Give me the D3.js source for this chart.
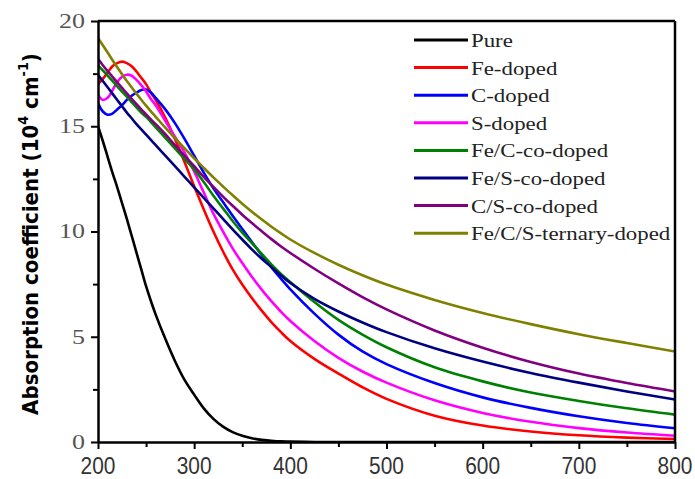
<!DOCTYPE html>
<html><head><meta charset="utf-8">
<script src="https://cdn.jsdelivr.net/npm/d3@7"></script>
<style>html,body{margin:0;padding:0;background:#fff;}svg{display:block;}</style>
</head><body><svg id="chart" width="695" height="479"></svg>
<script>
const wavelengths = [200,205,210,215,220,225,230,235,240,245,250,255,260,270,280,290,300,310,320,330,340,350,360,370,380,390,400,425,450,475,500,550,600,650,700,750,800];
const seriesNames = ["Pure","Fe-doped","C-doped","S-doped","Fe/C-co-doped","Fe/S-co-doped","C/S-co-doped","Fe/C/S-ternary-doped"];
const seriesColors = ["#000000","#ff0000","#0000ff","#ff00ff","#008000","#000080","#800080","#808000"];
const pure     = [15.0,14.3,13.55,12.8,12.1,11.35,10.6,9.8,9.0,8.2,7.4,6.7,6.05,4.9,3.85,2.95,2.25,1.6,1.1,0.73,0.47,0.3,0.18,0.1,0.06,0.03,0.02,0,0,0,0,0,0,0,0,0,0];
const feDoped  = [17.0,17.25,17.55,17.85,18.0,18.07,18.0,17.85,17.6,17.3,17.0,16.6,16.25,15.4,14.4,13.3,12.15,11.05,10.0,9.05,8.2,7.48,6.84,6.25,5.71,5.23,4.8,3.95,3.25,2.6,2.05,1.25,0.78,0.5,0.32,0.21,0.14];
const cDoped   = [16.1,15.7,15.55,15.6,15.8,16.0,16.25,16.45,16.6,16.72,16.75,16.6,16.35,15.8,15.15,14.4,13.6,12.8,12.05,11.4,10.75,10.12,9.5,8.9,8.32,7.77,7.25,6.1,5.1,4.3,3.7,2.8,2.12,1.62,1.22,0.9,0.65];
const sDoped   = [16.5,16.25,16.35,16.7,17.1,17.35,17.45,17.4,17.2,16.95,16.65,16.3,16.0,15.25,14.5,13.75,12.85,11.85,10.85,10.0,9.2,8.5,7.85,7.25,6.7,6.2,5.75,4.8,4.0,3.35,2.82,1.98,1.38,0.96,0.66,0.45,0.3];
const feCCoDoped = [17.9,17.65,17.4,17.15,16.9,16.65,16.4,16.15,15.9,15.65,15.45,15.2,14.95,14.45,13.95,13.45,12.95,12.35,11.7,11.1,10.5,9.95,9.45,8.95,8.45,8.0,7.6,6.65,5.8,5.1,4.5,3.55,2.88,2.35,1.95,1.6,1.3];
const feSCoDoped = [17.45,17.15,16.85,16.55,16.25,15.95,15.65,15.38,15.1,14.85,14.6,14.35,14.1,13.6,13.1,12.6,12.1,11.6,11.1,10.6,10.1,9.62,9.15,8.72,8.32,7.92,7.55,6.8,6.2,5.68,5.22,4.45,3.82,3.28,2.82,2.4,2.02];
const cSCoDoped  = [18.2,17.9,17.62,17.35,17.08,16.82,16.56,16.3,16.05,15.8,15.56,15.32,15.1,14.62,14.1,13.6,13.1,12.6,12.12,11.66,11.22,10.8,10.4,10.02,9.65,9.3,8.98,8.23,7.53,6.88,6.3,5.3,4.48,3.8,3.25,2.8,2.4];
const feCSTernary = [19.2,18.85,18.5,18.15,17.8,17.47,17.15,16.85,16.55,16.26,15.98,15.71,15.45,14.93,14.43,13.95,13.48,13.02,12.57,12.14,11.72,11.32,10.94,10.58,10.24,9.92,9.62,8.98,8.42,7.92,7.48,6.75,6.13,5.6,5.12,4.7,4.3];
const xTicks = [200,300,400,500,600,700,800];
const xMinorTicks = [250,350,450,550,650,750];
const yTicks = [0,5,10,15,20];
const yMinorTicks = [2.5,7.5,12.5,17.5];
const yTitle = "Absorption coefficient (10";

const seriesValues = [pure, feDoped, cDoped, sDoped, feCCoDoped, feSCoDoped, cSCoDoped, feCSTernary];
const series = seriesNames.map((name, i) => ({
  name, color: seriesColors[i],
  points: wavelengths.map((w, j) => ({x: w, y: seriesValues[i][j]}))
}));

const svg = d3.select("#chart");
const L = 98, R = 675, T = 21, B = 442;
const x = d3.scaleLinear().domain([200, 800]).range([L, R]);
const y = d3.scaleLinear().domain([0, 20]).range([B, T]);

svg.append("defs").append("clipPath").attr("id", "clip")
  .append("rect").attr("x", L).attr("y", T).attr("width", R - L).attr("height", B - T);

const line = d3.line().x(d => x(d.x)).y(d => y(d.y)).curve(d3.curveCatmullRom.alpha(0.5));
const plot = svg.append("g").attr("clip-path", "url(#clip)");
plot.selectAll("path.series").data(series).join("path")
  .attr("class", "series")
  .attr("fill", "none")
  .attr("stroke", d => d.color)
  .attr("stroke-width", 2.6)
  .attr("stroke-linejoin", "round")
  .attr("d", d => line(d.points));

// frame (top & right)
svg.append("line").attr("x1", L).attr("x2", R).attr("y1", T).attr("y2", T).attr("stroke", "#000").attr("stroke-width", 2.5);
svg.append("line").attr("x1", R).attr("x2", R).attr("y1", T).attr("y2", B).attr("stroke", "#000").attr("stroke-width", 2.5);

function stretch(sel, sx, sy) {
  const px = +sel.attr("x"), py = +sel.attr("y");
  sel.attr("transform", `translate(${px},${py}) scale(${sx},${sy}) translate(${-px},${-py})`);
}

// x axis
svg.append("g").attr("transform", `translate(0,${B})`)
  .call(d3.axisBottom(x).tickValues(xTicks).tickSize(7).tickSizeOuter(0).tickFormat(""));
svg.append("g").attr("transform", `translate(0,${B})`)
  .call(d3.axisBottom(x).tickValues(xMinorTicks).tickSize(5).tickSizeOuter(0).tickFormat(""))
  .select(".domain").remove();
// y axis
svg.append("g").attr("transform", `translate(${L},0)`)
  .call(d3.axisLeft(y).tickValues(yTicks).tickSize(7).tickSizeOuter(0).tickFormat(""));
svg.append("g").attr("transform", `translate(${L},0)`)
  .call(d3.axisLeft(y).tickValues(yMinorTicks).tickSize(5).tickSizeOuter(0).tickFormat(""))
  .select(".domain").remove();
svg.selectAll(".domain").attr("stroke", "#000").attr("stroke-width", 2.5);
svg.selectAll(".tick line").attr("stroke", "#000").attr("stroke-width", 2);

// x tick labels
xTicks.forEach(v => {
  const t = svg.append("text").attr("x", x(v)).attr("y", 474)
    .attr("text-anchor", "middle").attr("font-family", "'Liberation Sans', Arial, sans-serif")
    .attr("font-size", 22).attr("fill", "#333").text(v);
  stretch(t, 0.95, 1.05);
});
// y tick labels
yTicks.forEach(v => {
  const t = svg.append("text").attr("x", 85).attr("y", y(v) + 7)
    .attr("text-anchor", "end").attr("font-family", "'Liberation Serif', 'Times New Roman', serif")
    .attr("font-size", 20).attr("fill", "#555").text(v);
  stretch(t, 1.3, 1);
});

// y title
const tg = svg.append("g").attr("transform", "translate(38,234) rotate(-90)");
const tt = tg.append("text").attr("x", 0).attr("y", 0).attr("text-anchor", "middle")
  .attr("font-family", "'DejaVu Sans', Verdana, sans-serif").attr("font-weight", "bold")
  .attr("font-size", 17).attr("fill", "#000");
tt.append("tspan").text(yTitle);
tt.append("tspan").attr("dy", -8).attr("font-size", 11).text("4");
tt.append("tspan").attr("dy", 8).text(" cm");
tt.append("tspan").attr("dy", -8).attr("font-size", 11).text("-1");
tt.append("tspan").attr("dy", 8).text(")");
const bw = tt.node().getBBox().width;
tt.attr("transform", `scale(${362 / bw},1.3)`);

// legend
const legY0 = 40, legDy = 27.6;
series.forEach((s, i) => {
  const ly = legY0 + i * legDy;
  svg.append("line").attr("x1", 414).attr("x2", 468).attr("y1", ly).attr("y2", ly)
    .attr("stroke", s.color).attr("stroke-width", 3);
  const t = svg.append("text").attr("x", 471).attr("y", ly + 7)
    .attr("font-family", "'Liberation Serif', 'Times New Roman', serif")
    .attr("font-size", 18).attr("fill", "#222").text(s.name);
  stretch(t, 1.27, 1.05);
});
</script></body></html>
